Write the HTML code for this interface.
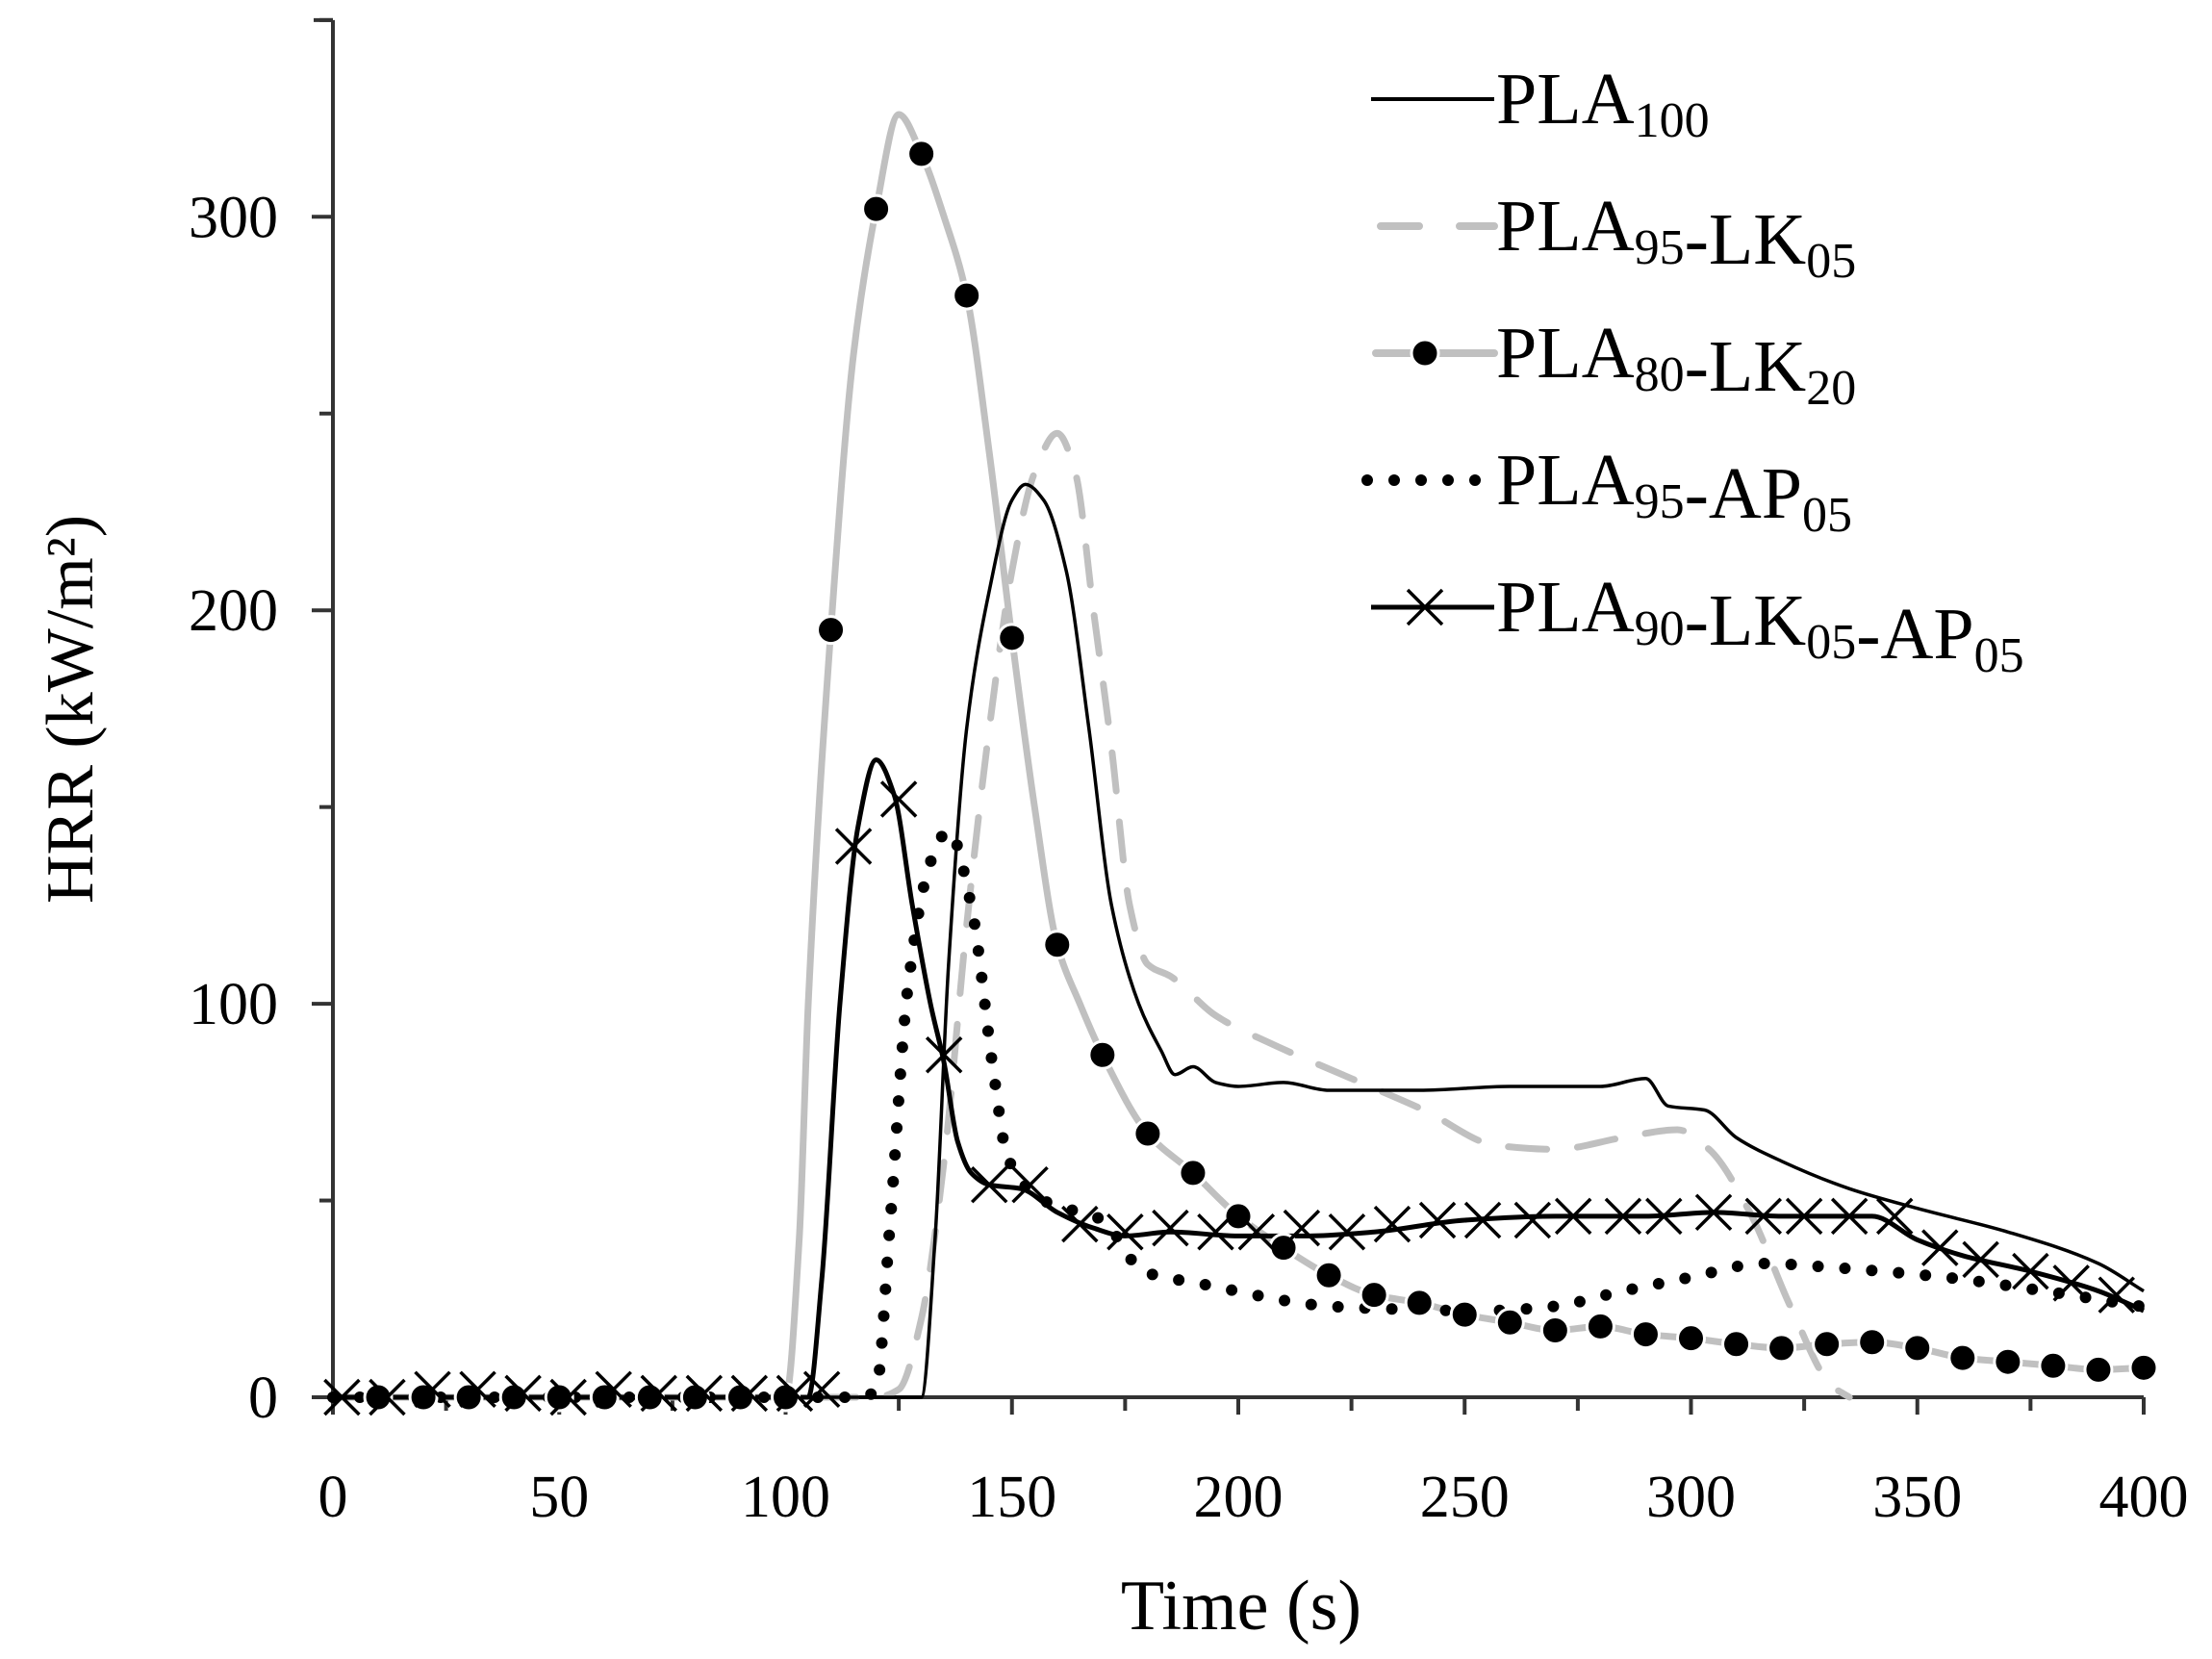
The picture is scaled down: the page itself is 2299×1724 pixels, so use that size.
<!DOCTYPE html>
<html><head><meta charset="utf-8"><style>
html,body{margin:0;padding:0;background:#fff;}
svg{display:block;font-family:"Liberation Serif",serif;}
</style></head><body>
<svg id="chart" width="2299" height="1724" viewBox="0 0 2299 1724" xmlns="http://www.w3.org/2000/svg">
<g id="axes"></g>
<g id="series"></g>
<g id="legend"></g>
<text x="1290" y="1693" font-size="74" text-anchor="middle">Time (s)</text>
<text transform="translate(96,737) rotate(-90)" font-size="70" text-anchor="middle">HRR (kW/m²)</text>
</svg>
<script>
const xTicks=[0,50,100,150,200,250,300,350,400];
const yTicks=[0,100,200,300];
const pla100T=[0,100,130,133,136,140,145,150,153,157,162,167,172,178,183,186,190,195,200,210,220,240,260,280,290,295,303,310,320,335,350,370,390,400];
const pla100V=[0,0,0,40,110,170,205,228,232,228,210,170,125,100,88,82,84,80,79,80,78,78,79,79,81,74,73,66,60,53,48,42,34,27];
const lk05T=[0,120,125,130,135,140,145,150,155,160,164,168,172,176,180,185,195,207,225,241,257,270,285,297,304,313,322,331,335];
const lk05V=[0,0,2,20,60,120,170,210,235,245,235,200,165,125,110,107,97,90,81,73,64,63,66,68,63,47,23,3,0];
const lk20T=[0,10,20,30,40,50,60,70,80,90,100,103,105,110,115,120,125,130,135,140,145,150,155,160,165,170,180,190,200,210,220,230,240,250,260,270,280,290,300,310,320,330,340,350,360,370,380,390,400];
const lk20V=[0,0,0,0,0,0,0,0,0,0,0,40,100,195,265,302,326,316,300,280,240,193,150,115,100,87,67,57,46,38,31,26,24,21,19,17,18,16,15,13.5,12.5,13.5,14,12.5,10,9,8,7,7.5];
const lk20MarkT=[10,20,30,40,50,60,70,80,90,100,110,120,130,140,150,160,170,180,190,200,210,220,230,240,250,260,270,280,290,300,310,320,330,340,350,360,370,380,390,400];
const lk20MarkV=[0,0,0,0,0,0,0,0,0,0,195,302,316,280,193,115,87,67,57,46,38,31,26,24,21,19,17,18,16,15,13.5,12.5,13.5,14,12.5,10,9,8,7,7.5];
const ap05T=[0,117,120,123,127,132,136,141,146,149,157,170,179,191,222,254,269,285,300,316,331,356,378,400];
const ap05V=[0,0,2,43,104,136,144,125,82,61,50,45,32,29,23,22,23,27,30.5,34,33,30.5,27,23];
const mixT=[0,105,108,112,116,120,124,128,132,135,138,141,145,152,160,168,175,185,200,215,230,250,270,290,305,320,340,350,360,375,390,400];
const mixV=[0,0,30,100,145,162,153,125,100,85,65,57,54,53,47,43,41,42,41,41,42,45,46,46,47,46,46,40,36,32,27,22];
const mixMarkT=[2,12,22,32,42,52,62,72,82,92,102,108,115,125,135,145,154,165,175,185,195,204,214,224,234,244,254,265,274,285,294,305,316,325,335,345,355,364,375,384,394];
const mixMarkV=[0,0,2,2,1,0,2,1,1,1,1,2,140,152,87,54,54,44,42,43,42,42,43,42,44,45,45,45,46,46,46,47,46,46,46,46,38,35,32,29,26];

const NS='http://www.w3.org/2000/svg';
const X0=346,XS=4.705,Y0=1452,YS=4.089;
const xs=v=>X0+v*XS, ys=v=>Y0-v*YS;
function mk(tag,attrs,parent){const e=document.createElementNS(NS,tag);for(const k in attrs)e.setAttribute(k,attrs[k]);parent.appendChild(e);return e;}
const axes=document.getElementById('axes'),series=document.getElementById('series'),legend=document.getElementById('legend');

let l=mk('line',{x1:X0,y1:ys(350),x2:X0,y2:Y0,stroke:'#333','stroke-width':4},axes);

l=mk('line',{x1:X0-20,y1:ys(350),x2:X0,y2:ys(350),stroke:'#333','stroke-width':4},axes);

l=mk('line',{x1:X0,y1:Y0,x2:xs(400),y2:Y0,stroke:'#333','stroke-width':4},axes);

for(let v=0;v<=350;v+=50){const major=v%100===0;
 const t=mk('line',{x1:X0-(major?22:14),y1:ys(v),x2:X0,y2:ys(v),stroke:'#333','stroke-width':4},axes);
 }
yTicks.forEach(v=>{const t=mk('text',{x:289,y:ys(v)+21,'font-size':62,'text-anchor':'end'},axes);t.textContent=v;
 });
for(let v=0;v<=400;v+=25){const major=v%50===0;
 const t=mk('line',{x1:xs(v),y1:Y0,x2:xs(v),y2:Y0+(major?18:14),stroke:'#333','stroke-width':4},axes);
 }
xTicks.forEach(v=>{const t=mk('text',{x:xs(v),y:1576,'font-size':62,'text-anchor':'middle'},axes);t.textContent=v;
 });

function smooth(T,V){const x=T.map(xs),y=V.map(ys),n=x.length;
 const d=[],m=new Array(n).fill(0);
 for(let i=0;i<n-1;i++)d.push((y[i+1]-y[i])/(x[i+1]-x[i]));
 m[0]=d[0];m[n-1]=d[n-2];
 for(let i=1;i<n-1;i++){if(d[i-1]*d[i]<=0)m[i]=0;else{const h0=x[i]-x[i-1],h1=x[i+1]-x[i];const w1=2*h1+h0,w2=h1+2*h0;m[i]=(w1+w2)/(w1/d[i-1]+w2/d[i]);}}
 let s='M'+x[0]+','+y[0];
 for(let i=0;i<n-1;i++){const h=(x[i+1]-x[i])/3;
  s+=' C'+(x[i]+h)+','+(y[i]+m[i]*h)+' '+(x[i+1]-h)+','+(y[i+1]-m[i+1]*h)+' '+x[i+1]+','+y[i+1];}
 return s;}

let p;
p=mk('path',{d:smooth(lk20T,lk20V),fill:'none',stroke:'#c0c0c0','stroke-width':7,'stroke-linejoin':'round'},series);

p=mk('path',{d:smooth(lk05T,lk05V),fill:'none',stroke:'#c0c0c0','stroke-width':7,'stroke-dasharray':'40 32','stroke-linecap':'round'},series);

p=mk('path',{d:smooth(pla100T,pla100V),fill:'none',stroke:'#000','stroke-width':3.5},series);

p=mk('path',{d:smooth(ap05T,ap05V),fill:'none',stroke:'#000','stroke-width':12,'stroke-dasharray':'0 28','stroke-linecap':'round'},series);

p=mk('path',{d:smooth(mixT,mixV),fill:'none',stroke:'#000','stroke-width':5},series);

lk20MarkT.forEach((t,i)=>{const c=mk('circle',{cx:xs(t),cy:ys(lk20MarkV[i]),r:14,fill:'#000',stroke:'#fff','stroke-width':3},series);
 });
mixMarkT.forEach((t,i)=>{const cx=xs(t),cy=ys(mixMarkV[i]),s=18;
 const g=mk('path',{d:`M${cx-s},${cy-s}L${cx+s},${cy+s}M${cx-s},${cy+s}L${cx+s},${cy-s}`,stroke:'#000','stroke-width':3.5,fill:'none'},series);
 });

const LX1=1425,LX2=1553,LY=[103,235,367,499,631];
const names=[[['PLA','100']],[['PLA','95'],['-LK','05']],[['PLA','80'],['-LK','20']],[['PLA','95'],['-AP','05']],[['PLA','90'],['-LK','05'],['-AP','05']]];
const lnames=['legend-pla100','legend-pla95-lk05','legend-pla80-lk20','legend-pla95-ap05','legend-pla90-lk05-ap05'];
LY.forEach((y,i)=>{const g=mk('g',{},legend);
 if(i===0)mk('line',{x1:LX1,y1:y,x2:LX2,y2:y,stroke:'#000','stroke-width':4},g);
 if(i===1)mk('line',{x1:LX1+10,y1:y,x2:LX2,y2:y,stroke:'#c0c0c0','stroke-width':8,'stroke-dasharray':'40 42','stroke-linecap':'round'},g);
 if(i===2){mk('line',{x1:LX1+5,y1:y,x2:LX2,y2:y,stroke:'#c0c0c0','stroke-width':8,'stroke-linecap':'round'},g);mk('circle',{cx:(LX1+LX2)/2-8,cy:y,r:14,fill:'#000',stroke:'#fff','stroke-width':3},g);}
 if(i===3)mk('line',{x1:LX1-4,y1:y,x2:LX2-8,y2:y,stroke:'#000','stroke-width':12,'stroke-dasharray':'0 28','stroke-linecap':'round'},g);
 if(i===4){mk('line',{x1:LX1,y1:y,x2:LX2,y2:y,stroke:'#000','stroke-width':5},g);const cx=(LX1+LX2)/2-8,s=18;mk('path',{d:`M${cx-s},${y-s}L${cx+s},${y+s}M${cx-s},${y+s}L${cx+s},${y-s}`,stroke:'#000','stroke-width':3.5},g);}
 const t=mk('text',{x:1555,y:y+25,'font-size':76},g);
 names[i].forEach(([a,b])=>{const s1=mk('tspan',{},t);s1.textContent=a;const s2=mk('tspan',{'font-size':52,dy:14},t);s2.textContent=b;const s3=mk('tspan',{dy:-14,'font-size':76},t);s3.textContent='';});
});
</script>
</body></html>
